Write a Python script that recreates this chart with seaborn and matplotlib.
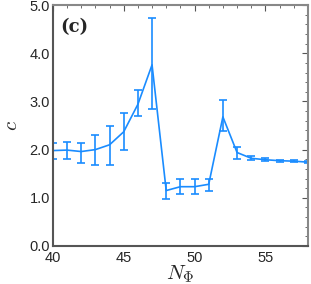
import numpy as np
import pandas as pd
import matplotlib
matplotlib.use("Agg")
from matplotlib import pyplot as plt
from matplotlib.ticker import MultipleLocator, FormatStrFormatter
import seaborn as sns

# 값 (그림에서 읽어낸 값)
n_phi = [40, 41, 42, 43, 44, 45, 46, 47, 48, 49, 50, 51, 52, 53, 54, 55, 56, 57, 58]
c_val = [1.98, 1.99, 1.96, 2.00, 2.10, 2.37, 2.94, 3.76, 1.15, 1.23, 1.23, 1.28,
         2.68, 1.94, 1.82, 1.79, 1.77, 1.76, 1.74]
err_up = [2.13, 2.16, 2.14, 2.30, 2.49, 2.77, 3.24, 4.74, 1.30, 1.38, 1.38, 1.38,
          3.04, 2.05, 1.86, 1.82, 1.79, 1.78, 1.76]
err_lo = [1.80, 1.80, 1.72, 1.69, 1.69, 2.00, 2.70, 2.84, 0.98, 1.07, 1.07, 1.15,
          2.39, 1.81, 1.78, 1.76, 1.75, 1.74, 1.72]

df = pd.DataFrame({"N": n_phi, "c": c_val, "hi": err_up, "lo": err_lo})

sns.set_style("white")
plt.rcParams['font.family'] = ['Liberation Sans', 'DejaVu Sans']
plt.rcParams['mathtext.fontset'] = 'cm'

blue = "#1a8cff"

fig = plt.figure(figsize=(3.11, 2.84), dpi=100)
ax = fig.add_axes([0.170, 0.134, 0.820, 0.848])

sns.lineplot(data=df, x="N", y="c", ax=ax, color=blue, linewidth=1.2)
# 에러바
ax.errorbar(df["N"], df["c"], yerr=[df["c"] - df["lo"], df["hi"] - df["c"]],
            fmt="none", ecolor=blue, elinewidth=1.2, capsize=3, capthick=1.2,
            clip_on=True)

ax.set_xlim(40, 58)
ax.set_ylim(0, 5)
ax.xaxis.set_major_locator(MultipleLocator(5))
ax.xaxis.set_minor_locator(MultipleLocator(1))
ax.yaxis.set_major_locator(MultipleLocator(1))
ax.yaxis.set_minor_locator(MultipleLocator(0.2))
ax.yaxis.set_major_formatter(FormatStrFormatter("%.1f"))
ax.tick_params(which="both", direction="in", top=True, right=True, color="#555555")
ax.tick_params(which="major", length=4, width=0.8, labelsize=10.5, pad=2)
ax.tick_params(axis="x", which="major", pad=4)
ax.tick_params(which="minor", length=2, width=0.6)
for side in ["left", "bottom"]:
    ax.spines[side].set_color("#555555")
for side in ["top", "right"]:
    ax.spines[side].set_color("#888888")
for s in ax.spines.values():
    s.set_linewidth(1.5)

ax.set_xlabel(r"$N_\Phi$", fontsize=15, labelpad=-1)
ax.set_ylabel(r"$c$", fontsize=15, labelpad=6)
ax.text(0.03, 0.91, "(c)", transform=ax.transAxes, fontsize=13,
        fontweight="bold", family="DejaVu Serif", va="center")

fig.savefig("out.png", dpi=100)
